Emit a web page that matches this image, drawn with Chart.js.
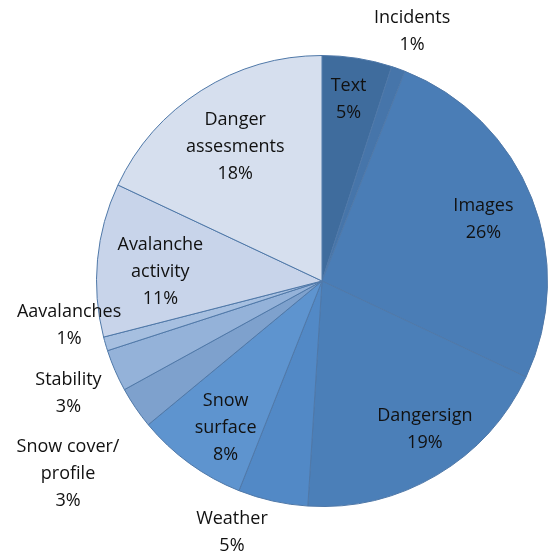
<!DOCTYPE html>
<html>
<head>
<meta charset="utf-8">
<script src="https://cdn.jsdelivr.net/npm/chart.js@4/dist/chart.umd.min.js"></script>
<style>
  html, body { margin: 0; padding: 0; background: #fff; }
  #wrap { width: 549px; height: 553px; }
</style>
</head>
<body>
<div id="wrap"><canvas id="pieChart" width="549" height="553"></canvas></div>
<script>
// Data, clockwise from 12 o'clock
const categories = ['Text', 'Incidents', 'Images', 'Dangersign', 'Weather', 'Snow surface',
    'Snow cover/profile', 'Stability', 'Aavalanches', 'Avalanche activity', 'Danger assesments'];
const shares = [5, 1, 26, 19, 5, 8, 3, 3, 1, 11, 18];
// label lines as printed in the chart
const labelLines = [['Text'], ['Incidents'], ['Images'], ['Dangersign'], ['Weather'], ['Snow', 'surface'],
    ['Snow cover/', 'profile'], ['Stability'], ['Aavalanches'], ['Avalanche', 'activity'], ['Danger', 'assesments']];

const sliceColors = ['#3f6c9d', '#4675aa', '#4a7db6', '#4b7fb8', '#5289c6', '#5e94cf',
    '#7ea1cd', '#94b2d9', '#a6bfe0', '#c8d4ea', '#d6dfee'];
// where each label sits: fraction of radius along the slice middle, plus a small nudge
const labelRadius = [0.81, 1.18, 0.77, 0.8, 1.18, 0.78, 1.41, 1.23, 1.14, 0.72, 0.71];
const labelNudge = [[-2, -1], [0, 1], [0, 2], [11, -7], [-32, -8], [7, 5], [9, 14], [1, 2], [-6, -27], [0, 6], [-1, 1]];

const labelPlugin = {
    id: 'sliceLabels',
    afterDatasetsDraw(chart) {
        const ctx = chart.ctx;
        const meta = chart.getDatasetMeta(0);
        ctx.save();
        ctx.font = '18px "Open Sans", Lato, sans-serif';
        ctx.fillStyle = '#111';
        ctx.textAlign = 'center';
        ctx.textBaseline = 'middle';
        meta.data.forEach((arc, i) => {
            const mid = (arc.startAngle + arc.endAngle) / 2;
            const r = arc.outerRadius * labelRadius[i];
            const cx = arc.x + Math.cos(mid) * r + labelNudge[i][0];
            const cy = arc.y + Math.sin(mid) * r + labelNudge[i][1];
            const lines = labelLines[i].concat([shares[i] + '%']);
            const lh = 27;
            const top = cy - (lines.length - 1) * lh / 2;
            lines.forEach((t, k) => ctx.fillText(t, cx, top + k * lh));
        });
        ctx.restore();
    }
};

new Chart(document.getElementById('pieChart').getContext('2d'), {
    type: 'pie',
    data: {
        labels: categories,
        datasets: [{
            data: shares,
            backgroundColor: sliceColors,
            borderColor: '#4f78a8',
            borderWidth: 1
        }]
    },
    options: {
        responsive: false,
        animation: false,
        layout: { padding: { left: 96, right: 1, top: 55, bottom: 46 } },
        plugins: {
            legend: { display: false },
            tooltip: { enabled: false }
        }
    },
    plugins: [labelPlugin]
});
</script>
</body>
</html>
